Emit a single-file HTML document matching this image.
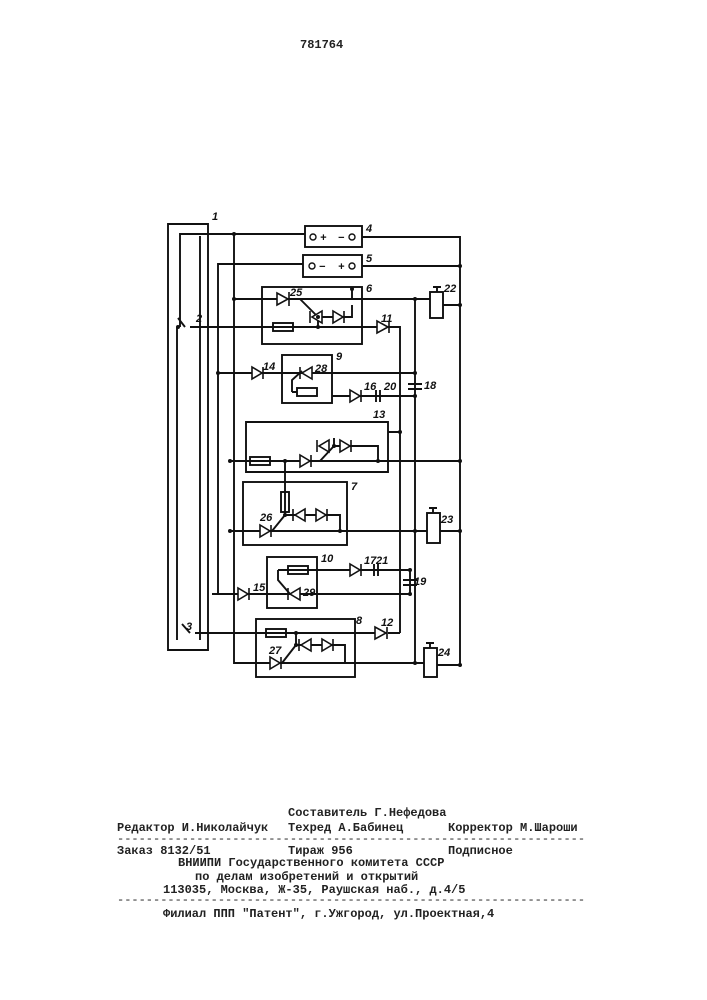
<!DOCTYPE html>
<html><head><meta charset="utf-8"><style>
body{margin:0;background:#fff}
svg{display:block}
.t{font-family:"Liberation Mono",monospace;font-size:12px;font-weight:bold;fill:#222}
.l{font-family:"Liberation Sans",sans-serif;font-size:11px;font-style:italic;font-weight:bold;fill:#111}
</style></head><body>
<svg width="707" height="1000" viewBox="0 0 707 1000" xmlns="http://www.w3.org/2000/svg">
<rect width="707" height="1000" fill="#fff"/>
<text x="300" y="48" class="t">781764</text>
<g stroke="#111" stroke-width="1.9" fill="none">
<path d="M168 650 V224 H208 V650 Z"/>
<path d="M177 640 V327"/><path d="M200 640 V236"/>
<rect x="305" y="226" width="57" height="21"/>
<rect x="303" y="255" width="59" height="22"/>
<path d="M180 327 V234 H305 M362 237 H460 V665 H437"/>
<path d="M218 594 V264 H303 M362 266 H460"/>
<path d="M234 234 V663 H424"/>
<rect x="262" y="287" width="100" height="57"/>
<path d="M234 299 H430 M443 305 H460"/>
<rect x="430" y="292" width="13" height="26"/>
<path d="M437 292 v-5 M433 287 h8"/>
<path d="M282 299 H352 V289 M300 299 l18 18 M318 317 H352 V305"/>
<path d="M318 317 V327"/>
<path d="M185 327 L178 318 M190 327 H380 M388 327 H400 V633"/>
<rect x="273" y="323" width="20" height="8"/>
<path d="M415 299 V663"/>
<rect x="282" y="355" width="50" height="48"/>
<path d="M218 373 H415 M332 396 H415"/>
<path d="M292 392 V380 L302 371 M292 392 H297"/>
<rect x="297" y="388" width="20" height="8"/>
<path d="M408 384 H422 M408 389 H422"/>
<path d="M376 390 V402 M380 390 V402"/>
<path d="M246 472 V422 H388 V472 Z"/>
<path d="M230 461 H460 M285 461 V513 M320 461 L334 446 H378 V461 M334 446 V438 M388 432 H400"/>
<rect x="250" y="457" width="20" height="8"/>
<rect x="243" y="482" width="104" height="63"/>
<rect x="281" y="492" width="8" height="20"/>
<path d="M230 531 H427 M440 531 H460 M285 512 V515 L272 531 M285 515 H340 V531"/>
<rect x="427" y="513" width="13" height="30"/>
<path d="M433 513 v-5 M429 508 h8"/>
<rect x="267" y="557" width="50" height="51"/>
<path d="M290 570 H410 V594 M212 594 H410 M278 570 H290 M278 570 V580 L290 594"/>
<rect x="288" y="566" width="20" height="8"/>
<path d="M403 580 H417 M403 585 H417"/>
<path d="M374 564 V576 M378 564 V576"/>
<rect x="256" y="619" width="99" height="58"/>
<path d="M195 633 H380 M388 633 H400 M190 633 L182 624"/>
<rect x="266" y="629" width="20" height="8"/>
<path d="M296 633 V645 L282 663 M296 645 H345 V663"/>
<rect x="424" y="648" width="13" height="29"/>
<path d="M430 648 v-5 M426 643 h8"/>
</g>
<g fill="#fff" stroke="#111" stroke-width="1.6">
<path d="M277 293 L277 305 L288 299 Z M289 292 V306"/>
<path d="M322 311 V323 L312 317 Z M310 311 V323"/>
<path d="M333 311 V323 L343 317 Z M344 311 V323"/>
<path d="M377 321 V333 L388 327 Z M389 321 V333"/>
<path d="M252 367 V379 L262 373 Z M263 367 V379"/>
<path d="M312 367 V379 L302 373 Z M300 367 V379"/>
<path d="M350 390 V402 L360 396 Z M361 390 V402"/>
<path d="M329 440 V452 L319 446 Z M317 440 V452"/>
<path d="M340 440 V452 L350 446 Z M351 440 V452"/>
<path d="M300 455 V467 L310 461 Z M311 455 V467"/>
<path d="M305 509 V521 L295 515 Z M293 509 V521"/>
<path d="M316 509 V521 L326 515 Z M327 509 V521"/>
<path d="M260 525 V537 L270 531 Z M271 525 V537"/>
<path d="M350 564 V576 L360 570 Z M361 564 V576"/>
<path d="M300 588 V600 L290 594 Z M288 588 V600"/>
<path d="M238 588 V600 L248 594 Z M249 588 V600"/>
<path d="M375 627 V639 L386 633 Z M387 627 V639"/>
<path d="M311 639 V651 L301 645 Z M299 639 V651"/>
<path d="M322 639 V651 L332 645 Z M333 639 V651"/>
<path d="M270 657 V669 L280 663 Z M281 657 V669"/>
</g>
<g fill="#111">
<circle cx="234" cy="234" r="2"/><circle cx="460" cy="266" r="2"/><circle cx="234" cy="299" r="2"/>
<circle cx="352" cy="289" r="2"/><circle cx="318" cy="317" r="2"/><circle cx="318" cy="327" r="2"/>
<circle cx="415" cy="299" r="2"/><circle cx="460" cy="305" r="2"/><circle cx="178" cy="327" r="2"/>
<circle cx="218" cy="373" r="2"/><circle cx="415" cy="373" r="2"/><circle cx="415" cy="396" r="2"/>
<circle cx="400" cy="432" r="2"/><circle cx="230" cy="461" r="2"/><circle cx="285" cy="461" r="2"/>
<circle cx="334" cy="446" r="2"/><circle cx="378" cy="461" r="2"/><circle cx="460" cy="461" r="2"/>
<circle cx="285" cy="515" r="2"/><circle cx="230" cy="531" r="2"/><circle cx="340" cy="531" r="2"/>
<circle cx="415" cy="531" r="2"/><circle cx="460" cy="531" r="2"/><circle cx="410" cy="570" r="2"/>
<circle cx="410" cy="594" r="2"/><circle cx="296" cy="633" r="2"/><circle cx="296" cy="645" r="2"/>
<circle cx="415" cy="663" r="2"/><circle cx="460" cy="665" r="2"/>
</g>
<g fill="#fff" stroke="#111" stroke-width="1.4">
<circle cx="313" cy="237" r="3"/><circle cx="352" cy="237" r="3"/>
<circle cx="312" cy="266" r="3"/><circle cx="352" cy="266" r="3"/>
</g>
<g class="l">
<text x="320" y="241">+</text><text x="338" y="241">−</text>
<text x="319" y="270">−</text><text x="338" y="270">+</text>
<text x="212" y="220">1</text><text x="196" y="322">2</text><text x="186" y="630">3</text>
<text x="366" y="232">4</text><text x="366" y="262">5</text><text x="366" y="292">6</text>
<text x="351" y="490">7</text><text x="356" y="624">8</text><text x="336" y="360">9</text>
<text x="321" y="562">10</text><text x="381" y="322">11</text><text x="381" y="626">12</text>
<text x="373" y="418">13</text><text x="263" y="370">14</text><text x="253" y="591">15</text>
<text x="364" y="390">16</text><text x="364" y="564">17</text><text x="424" y="389">18</text>
<text x="414" y="585">19</text><text x="384" y="390">20</text><text x="376" y="564">21</text>
<text x="444" y="292">22</text><text x="441" y="523">23</text><text x="438" y="656">24</text>
<text x="290" y="296">25</text><text x="260" y="521">26</text><text x="269" y="654">27</text>
<text x="315" y="372">28</text><text x="303" y="596">29</text>
</g>
<g class="t">
<text x="288" y="816">Составитель Г.Нефедова</text>
<text x="117" y="831">Редактор И.Николайчук</text>
<text x="288" y="831">Техред А.Бабинец</text>
<text x="448" y="831">Корректор М.Шароши</text>
<text x="117" y="842" font-weight="normal">-----------------------------------------------------------------</text>
<text x="117" y="854">Заказ 8132/51</text>
<text x="288" y="854">Тираж 956</text>
<text x="448" y="854">Подписное</text>
<text x="178" y="866">ВНИИПИ Государственного комитета СССР</text>
<text x="195" y="880">по делам изобретений и открытий</text>
<text x="163" y="893">113035, Москва, Ж-35, Раушская наб., д.4/5</text>
<text x="117" y="903" font-weight="normal">-----------------------------------------------------------------</text>
<text x="163" y="917">Филиал ППП "Патент", г.Ужгород, ул.Проектная,4</text>
</g>
</svg>
</body></html>
